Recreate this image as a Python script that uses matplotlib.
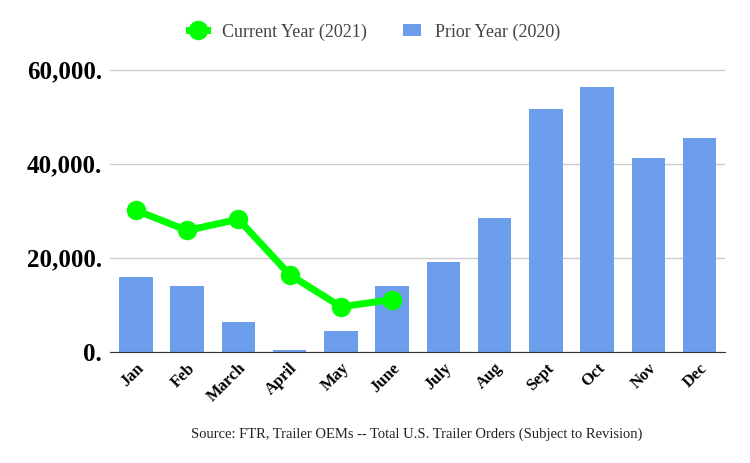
import matplotlib.pyplot as plt

plt.rcParams['font.family'] = ['Liberation Serif', 'DejaVu Serif']

months = ['Jan', 'Feb', 'March', 'April', 'May', 'June', 'July', 'Aug', 'Sept', 'Oct', 'Nov', 'Dec']
prior_2020 = [16000, 13900, 6400, 400, 4500, 14100, 19000, 28400, 51700, 56200, 41200, 45500]
current_2021 = [30100, 25800, 28200, 16400, 9600, 11100]
yticks = [0, 20000, 40000, 60000]
ytick_labels = ['0.', '20,000.', '40,000.', '60,000.']

fig = plt.figure(figsize=(7.5, 4.63), dpi=100)
ax = fig.add_axes([0.147, 0.24, 0.82, 0.63])

x = range(len(months))
ax.bar(x, prior_2020, width=0.65, color='#6d9eeb', label='Prior Year (2020)', zorder=2)
ax.plot(range(len(current_2021)), current_2021, color='#00ff00', lw=5, marker='o',
        markersize=13, label='Current Year (2021)', zorder=3)

ax.set_ylim(0, 62000)
ax.set_xlim(-0.5, len(months) - 0.5)
ax.set_yticks(yticks)
ax.set_yticklabels(ytick_labels, fontsize=18, fontweight='bold')
ax.set_xticks(list(x))
ax.set_xticklabels(months, rotation=45, ha='right', rotation_mode='anchor',
                   fontsize=12, fontweight='bold')
ax.grid(axis='y', color='#cccccc', lw=1, zorder=0)
for s in ['top', 'right', 'left']:
    ax.spines[s].set_visible(False)
ax.spines['bottom'].set_color('#333333')
ax.tick_params(length=0, pad=6)

fig.legend(loc='upper center', bbox_to_anchor=(0.5, 0.985), ncol=2, frameon=False,
           fontsize=13, handlelength=1.0, labelcolor='#444444')
fig.text(0.555, 0.055, 'Source: FTR, Trailer OEMs -- Total U.S. Trailer Orders (Subject to Revision)',
         ha='center', fontsize=10.5, color='#222222')

fig.savefig('out.png', dpi=100)
